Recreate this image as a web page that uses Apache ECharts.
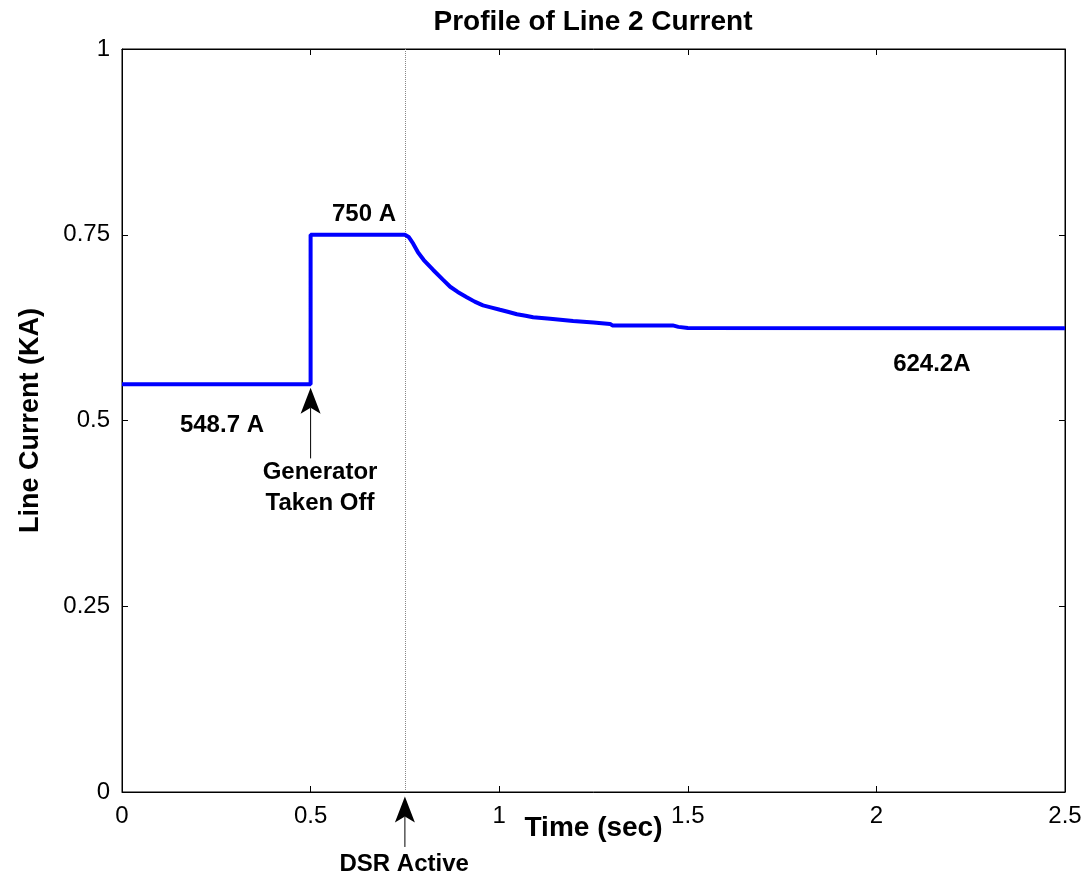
<!DOCTYPE html>
<html>
<head>
<meta charset="utf-8">
<script src="https://cdn.jsdelivr.net/npm/echarts@6/dist/echarts.min.js"></script>
<style>html,body{margin:0;padding:0;background:#fff}#c{width:1085px;height:878px}</style>
</head>
<body>
<div id="c"></div>
<script>
// Data
var timeSec = [0, 0.5, 0.5, 0.75, 0.76, 0.772, 0.785, 0.80, 0.825, 0.85, 0.87, 0.89, 0.914, 0.935, 0.957, 0.98, 1.002, 1.025, 1.047, 1.07, 1.09, 1.135, 1.196, 1.25, 1.294, 1.30, 1.40, 1.46, 1.475, 1.50, 2.5];
var currentKA = [0.5487, 0.5487, 0.75, 0.75, 0.747, 0.738, 0.726, 0.716, 0.7026, 0.690, 0.680, 0.673, 0.666, 0.660, 0.655, 0.652, 0.649, 0.646, 0.643, 0.641, 0.639, 0.637, 0.634, 0.632, 0.630, 0.628, 0.628, 0.628, 0.626, 0.6245, 0.6242];
var xTicks = [0, 0.5, 1, 1.5, 2, 2.5];
var yTicks = [0, 0.25, 0.5, 0.75, 1];
var dsrTime = 0.75;
var genTime = 0.5;
var annotations = [
  {text: '750 A', x: 0.6416, y: 0.778},
  {text: '548.7 A', x: 0.265, y: 0.494},
  {text: '624.2A', x: 2.147, y: 0.576},
  {text: 'Generator', x: 0.525, y: 0.4307},
  {text: 'Taken Off', x: 0.525, y: 0.389},
  {text: 'DSR Active', x: 0.748, y: -0.098}
];
var arrows = [
  {x: genTime, from: 0.449, to: 0.544},
  {x: dsrTime, from: -0.074, to: -0.006}
];

var FONT = 'Liberation Sans, Arial, sans-serif';
var seriesData = timeSec.map(function (t, i) { return [t, currentKA[i]]; });

var chart = echarts.init(document.getElementById('c'), null, {renderer: 'canvas'});
var tickFmt = function (v) { return String(v); };

function axisCommon(extra) {
  var base = {
    axisLine: {show: true, onZero: false, lineStyle: {color: '#000', width: 1}},
    axisTick: {show: true, inside: true, length: 6, lineStyle: {color: '#000'}},
    splitLine: {show: false}
  };
  for (var k in extra) base[k] = extra[k];
  return base;
}

var option = {
  backgroundColor: '#fff',
  animation: false,
  title: {
    text: 'Profile of Line 2 Current',
    left: 588, top: 3, textAlign: 'center',
    textStyle: {fontFamily: FONT, fontSize: 28, fontWeight: 'bold', color: '#000'}
  },
  grid: {left: 122, right: 20, top: 49, bottom: 86, show: true, borderColor: '#000', borderWidth: 1},
  xAxis: [axisCommon({
    type: 'value', min: 0, max: 2.5, interval: 0.5, position: 'bottom',
    name: 'Time (sec)', nameLocation: 'middle', nameGap: 22, nameMoveOverlap: false,
    nameTextStyle: {fontFamily: FONT, fontSize: 28, fontWeight: 'bold', color: '#000'},
    axisLabel: {fontFamily: FONT, fontSize: 24, color: '#000', margin: 12, formatter: tickFmt}
  }), axisCommon({
    type: 'value', min: 0, max: 2.5, interval: 0.5, position: 'top',
    axisLabel: {show: false}
  })],
  yAxis: [axisCommon({
    type: 'value', min: 0, max: 1, interval: 0.25, position: 'left',
    name: 'Line Current (KA)', nameLocation: 'middle', nameGap: 78, nameMoveOverlap: false,
    nameTextStyle: {fontFamily: FONT, fontSize: 27, fontWeight: 'bold', color: '#000'},
    axisLabel: {fontFamily: FONT, fontSize: 24, color: '#000', margin: 12, formatter: tickFmt}
  }), axisCommon({
    type: 'value', min: 0, max: 1, interval: 0.25, position: 'right',
    axisLabel: {show: false}
  })],
  series: [{
    type: 'line',
    data: seriesData,
    xAxisIndex: 0, yAxisIndex: 0,
    showSymbol: false, symbol: 'none',
    lineStyle: {color: '#0000ff', width: 4},
    z: 5,
    markLine: {
      silent: true,
      symbol: ['none', 'none'],
      animation: false,
      label: {show: false},
      data: [{xAxis: dsrTime, lineStyle: {color: '#888', type: [1, 1], width: 1}}]
    }
  }]
};
chart.setOption(option);

// Annotations (arrows + texts) placed through the chart's own scales
var graphics = [];
function px(x, y) { return chart.convertToPixel({xAxisIndex: 0, yAxisIndex: 0}, [x, y]); }
arrows.forEach(function (a) {
  var p0 = px(a.x, a.from), p1 = px(a.x, a.to);
  graphics.push({type: 'line', shape: {x1: p0[0], y1: p0[1], x2: p1[0], y2: p1[1] + 20}, style: {stroke: '#000', lineWidth: 1}, z: 100});
  graphics.push({type: 'polygon', shape: {points: [[p1[0], p1[1]], [p1[0] + 10, p1[1] + 26], [p1[0], p1[1] + 20], [p1[0] - 10, p1[1] + 26]]}, style: {fill: '#000'}, z: 100});
});
annotations.forEach(function (a) {
  var p = px(a.x, a.y);
  graphics.push({type: 'text', x: p[0], y: p[1], style: {text: a.text, fontFamily: FONT, fontSize: 24, fontWeight: 'bold', fill: '#000', align: 'center', verticalAlign: 'middle'}, z: 100});
});
chart.setOption({graphic: graphics});
</script>
</body>
</html>
